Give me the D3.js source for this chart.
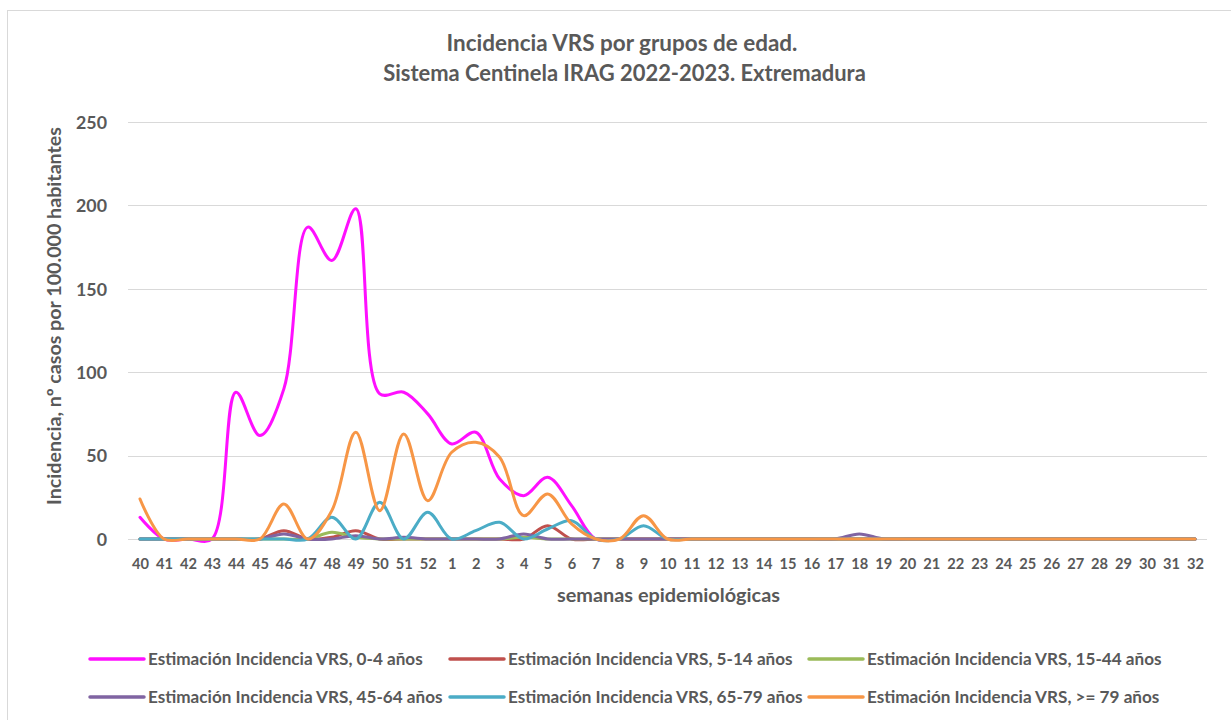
<!DOCTYPE html>
<html>
<head>
<meta charset="utf-8">
<script src="https://cdn.jsdelivr.net/npm/d3@7"></script>
<style>
  html, body { margin: 0; padding: 0; background: #ffffff; }
  svg { display: block; }
  text { font-family: Lato, "Open Sans", "DejaVu Sans", sans-serif; font-weight: bold; fill: #595959; }
</style>
</head>
<body>
<svg id="chart" width="1231" height="720"></svg>
<script>
// ---- data ----
const weeks = ["40","41","42","43","44","45","46","47","48","49","50","51","52",
  "1","2","3","4","5","6","7","8","9","10","11","12","13","14","15","16","17","18",
  "19","20","21","22","23","24","25","26","27","28","29","30","31","32"];

const seriesNames = [
  "Estimación Incidencia VRS, 0-4 años",
  "Estimación Incidencia VRS, 5-14 años",
  "Estimación Incidencia VRS, 15-44 años",
  "Estimación Incidencia VRS, 45-64 años",
  "Estimación Incidencia VRS, 65-79 años",
  "Estimación Incidencia VRS, >= 79 años"
];

const age0_4   = [13,0,0,0,88,62,90,187,167,198,87,88,75,57,64,36,26,37,20,0,0,0,0,0,0,0,0,0,0,0,0,0,0,0,0,0,0,0,0,0,0,0,0,0,0];
const age5_14  = [0,0,0,0,0,0,5,0,1,5,0,0,0,0,0,0,0,8,0,0,0,0,0,0,0,0,0,0,0,0,0,0,0,0,0,0,0,0,0,0,0,0,0,0,0];
const age15_44 = [0,0,0,0,0,0,0,0,4,1,0,0,0,0,0,0,1,0,0,0,0,0,0,0,0,0,0,0,0,0,0,0,0,0,0,0,0,0,0,0,0,0,0,0,0];
const age45_64 = [0,0,0,0,0,0,3,0,0,2,0,1,0,0,0,0,3,0,0,0,0,0,0,0,0,0,0,0,0,0,3,0,0,0,0,0,0,0,0,0,0,0,0,0,0];
const age65_79 = [0,0,0,0,0,0,0,0,13,0,22,0,16,0,5,10,0,6,11,0,0,8,0,0,0,0,0,0,0,0,0,0,0,0,0,0,0,0,0,0,0,0,0,0,0];
const age79p   = [24,0,0,0,0,0,21,0,17,64,17,63,23,52,58,49,14,27,9,0,0,14,0,0,0,0,0,0,0,0,0,0,0,0,0,0,0,0,0,0,0,0,0,0,0];

const yTicks = [0,50,100,150,200,250];
const colors = ["#FF0FFF","#C0504D","#9BBB59","#8064A2","#4BACC6","#F79646"];

const titleLines = ["Incidencia VRS por grupos de edad.", "Sistema Centinela IRAG 2022-2023. Extremadura"];
const yTitle = "Incidencia, nº casos por 100.000 habitantes";
const xTitle = "semanas epidemiológicas";

const allSeries = [age0_4, age5_14, age15_44, age45_64, age65_79, age79p];

// ---- layout ----
const svg = d3.select("#chart");
const plotLeft = 128, plotRight = 1207, plotTop = 122, plotBottom = 539;

function fitText(sel, target) {
  const n = sel.node();
  const fs = parseFloat(sel.attr("font-size"));
  const w = n.getComputedTextLength();
  if (w > 0) sel.attr("font-size", (fs * target / w).toFixed(2));
  return sel;
}

// border
svg.append("rect").attr("x", 7.5).attr("y", 10.5).attr("width", 1240).attr("height", 740)
  .attr("fill", "#ffffff").attr("stroke", "#d9d9d9").attr("stroke-width", 1);

const x = d3.scalePoint().domain(weeks).range([plotLeft, plotRight]).padding(0.5);
const y = d3.scaleLinear().domain([0, 250]).range([plotBottom, plotTop]);

// gridlines
svg.append("g").selectAll("line").data(yTicks).join("line")
  .attr("x1", plotLeft).attr("x2", plotRight)
  .attr("y1", d => Math.round(y(d)) + 0.5).attr("y2", d => Math.round(y(d)) + 0.5)
  .attr("stroke", "#d9d9d9").attr("stroke-width", 1);

// y axis labels
const yAxis = d3.axisLeft(y).tickValues(yTicks).tickSize(0).tickPadding(0);
const gy = svg.append("g").attr("transform", "translate(107,0)").call(yAxis);
gy.select(".domain").remove();
gy.selectAll("text").attr("font-size", 16).attr("fill", "#595959").attr("dy", "0.35em");
fitText(gy.selectAll("text").filter(d => d === 250), 31);
const yfs = gy.selectAll("text").filter(d => d === 250).attr("font-size");
gy.selectAll("text").attr("font-size", yfs);
gy.attr("font-size", null).attr("font-family", null);

// x axis labels
const xAxis = d3.axisBottom(x).tickSize(0).tickPadding(0);
const gx = svg.append("g").attr("transform", "translate(0,559)").call(xAxis);
gx.select(".domain").remove();
gx.selectAll("text").attr("font-size", 15).attr("dy", "0.71em").attr("fill", "#595959");
fitText(gx.selectAll("text").filter(d => d === "40"), 17);
const xfs = gx.selectAll("text").filter(d => d === "40").attr("font-size");
gx.selectAll("text").attr("font-size", xfs);
gx.attr("font-size", null).attr("font-family", null);

// lines
const line = d3.line()
  .x((d, i) => x(weeks[i]))
  .y(d => y(d))
  .curve(d3.curveCatmullRom.alpha(0.5));

svg.append("g").selectAll("path").data(allSeries).join("path")
  .attr("d", d => line(d))
  .attr("fill", "none")
  .attr("stroke", (d, i) => colors[i])
  .attr("stroke-width", 3)
  .attr("stroke-linecap", "round")
  .attr("stroke-linejoin", "round");

// titles
const t1 = svg.append("text").attr("x", 622).attr("y", 51).attr("text-anchor", "middle")
  .attr("font-size", 18).text(titleLines[0]);
fitText(t1, 351);
const t2 = svg.append("text").attr("x", 624.5).attr("y", 81).attr("text-anchor", "middle")
  .attr("font-size", 18).text(titleLines[1]);
fitText(t2, 483);

const yt = svg.append("text").attr("transform", "translate(61,316) rotate(-90)")
  .attr("text-anchor", "middle").attr("font-size", 16).text(yTitle);
fitText(yt, 378);

const xt = svg.append("text").attr("x", 668.5).attr("y", 602).attr("text-anchor", "middle")
  .attr("font-size", 16).text(xTitle);
fitText(xt, 223);

// legend
const legendPos = [
  {lx: 90, tx: 148, y: 659}, {lx: 450, tx: 508, y: 659}, {lx: 809, tx: 867, y: 659},
  {lx: 90, tx: 148, y: 697}, {lx: 450, tx: 508, y: 697}, {lx: 809, tx: 867, y: 697}
];
const lg = svg.append("g");
let legFs = null;
seriesNames.forEach((name, i) => {
  const p = legendPos[i];
  lg.append("line").attr("x1", p.lx).attr("x2", p.lx + 54).attr("y1", p.y).attr("y2", p.y)
    .attr("stroke", colors[i]).attr("stroke-width", 3.5).attr("stroke-linecap", "round");
  const t = lg.append("text").attr("x", p.tx).attr("y", p.y).attr("dy", "0.35em")
    .attr("font-size", 14).text(name);
  if (i === 0) { fitText(t, 275); legFs = t.attr("font-size"); }
  else t.attr("font-size", legFs);
});
</script>
</body>
</html>
